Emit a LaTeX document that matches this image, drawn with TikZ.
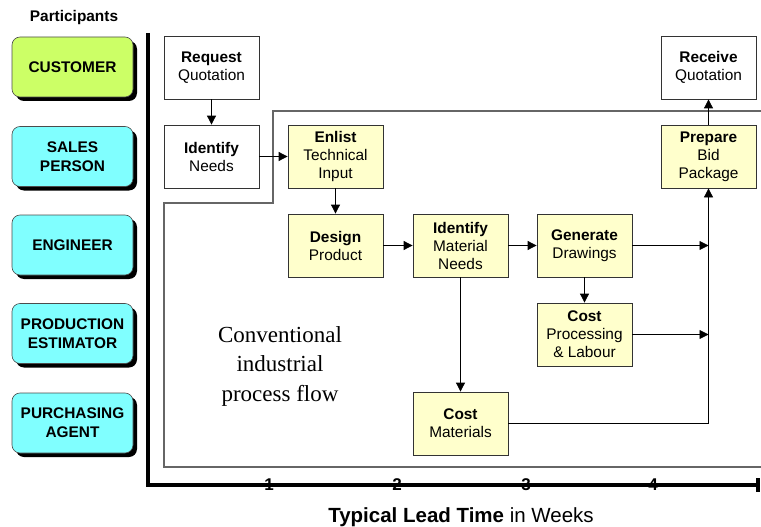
\documentclass[tikz,border=0pt]{standalone}
\usepackage{fontspec}
\setmainfont{Liberation Sans}
\newfontfamily\flowserif{Liberation Serif}
\usetikzlibrary{arrows.meta,shadows}
\definecolor{custgreen}{RGB}{204,255,102}
\definecolor{partcyan}{RGB}{128,255,255}
\definecolor{stepyellow}{RGB}{255,255,204}
\tikzset{
	partbox/.style={draw=black!70,line width=0.6pt,rounded corners=8pt,fill=partcyan,
		minimum width=121pt,minimum height=60pt,align=center,
		font=\bfseries\fontsize{15.4}{19}\selectfont,
		drop shadow={shadow xshift=4pt,shadow yshift=-4pt,fill=black,opacity=1}},
	flowbox/.style={draw=black!80,line width=0.8pt,fill=stepyellow,
		minimum width=95pt,minimum height=63pt,align=center,inner sep=1pt,
		font=\fontsize{15.4}{18}\selectfont},
	flowarrow/.style={-{Triangle[length=9pt,width=9pt]},line width=0.8pt},
}
\begin{document}
\begin{tikzpicture}[x=1pt,y=-1pt]
		\useasboundingbox (0,0) rectangle (761,527);
		% participants
		\node[font=\bfseries\fontsize{15.4}{18}\selectfont] (parttitle) at (74,18) {Participants};
		\node[partbox,fill=custgreen] (cust) at (72.5,67) {CUSTOMER};
		\node[partbox] (sales) at (72.5,156.5) {SALES\\PERSON};
		\node[partbox] (eng) at (72.5,245) {ENGINEER};
		\node[partbox] (prod) at (72.5,333.5) {PRODUCTION\\ESTIMATOR};
		\node[partbox] (purch) at (72.5,423) {PURCHASING\\AGENT};
		% frame round the internal steps
		\draw[gray!80!black,line width=1.2pt] (761,111)--(273,111)--(273,203)--(164,203)--(164,467)--(761,467);
		% axes
		\draw[line width=3.3pt] (148,33)--(148,485)--(758,485);
		\draw[line width=3.3pt] (758,478)--(758,492);
		\foreach \x/\n in {269/1,397/2,526/3,653/4} \node[font=\bfseries\fontsize{17}{18}\selectfont] at (\x,484.5) {\n};
		\node[font=\fontsize{20.5}{24}\selectfont] (axtitle) at (461,517) {\textbf{Typical Lead Time} in Weeks};
		\node[align=center,font=\flowserif\fontsize{23}{29.5}\selectfont] (note) at (280,366) {Conventional\\industrial\\process flow};
		% steps
		\node[flowbox,fill=white] (request) at (211.5,67.5) {\textbf{Request}\\Quotation};
		\node[flowbox,fill=white] (needs) at (211.5,156.5) {\textbf{Identify}\\Needs};
		\node[flowbox] (enlist) at (335.5,156.5) {\textbf{Enlist}\\Technical\\Input};
		\node[flowbox] (design) at (335.5,245.5) {\textbf{Design}\\Product};
		\node[flowbox] (matneeds) at (460.5,245.5) {\textbf{Identify}\\Material\\Needs};
		\node[flowbox] (drawings) at (584.5,245.5) {\textbf{Generate}\\Drawings};
		\node[flowbox] (costproc) at (584.5,334.5) {\textbf{Cost}\\Processing\\\& Labour};
		\node[flowbox] (costmat) at (460.5,423.5) {\textbf{Cost}\\Materials};
		\node[flowbox] (bid) at (708.5,156.5) {\textbf{Prepare}\\Bid\\Package};
		\node[flowbox,fill=white] (receive) at (708.5,67.5) {\textbf{Receive}\\Quotation};
		\coordinate (joindraw) at (bid.south |- drawings.east);
		\coordinate (joinproc) at (bid.south |- costproc.east);
		\coordinate (joinmat) at (bid.south |- costmat.east);
		% connectors
		\draw[flowarrow] (request)--(needs);
		\draw[flowarrow] (needs)--(enlist);
		\draw[flowarrow] (enlist)--(design);
		\draw[flowarrow] (design)--(matneeds);
		\draw[flowarrow] (matneeds)--(drawings);
		\draw[flowarrow] (matneeds)--(costmat);
		\draw[flowarrow] (drawings)--(costproc);
		\draw[flowarrow] (drawings.east)--(joindraw);
		\draw[flowarrow] (costproc.east)--(joinproc);
		\draw[flowarrow] (costmat.east)--(joinmat)--(bid.south);
		\draw[flowarrow] (bid)--(receive);
\end{tikzpicture}
\end{document}
